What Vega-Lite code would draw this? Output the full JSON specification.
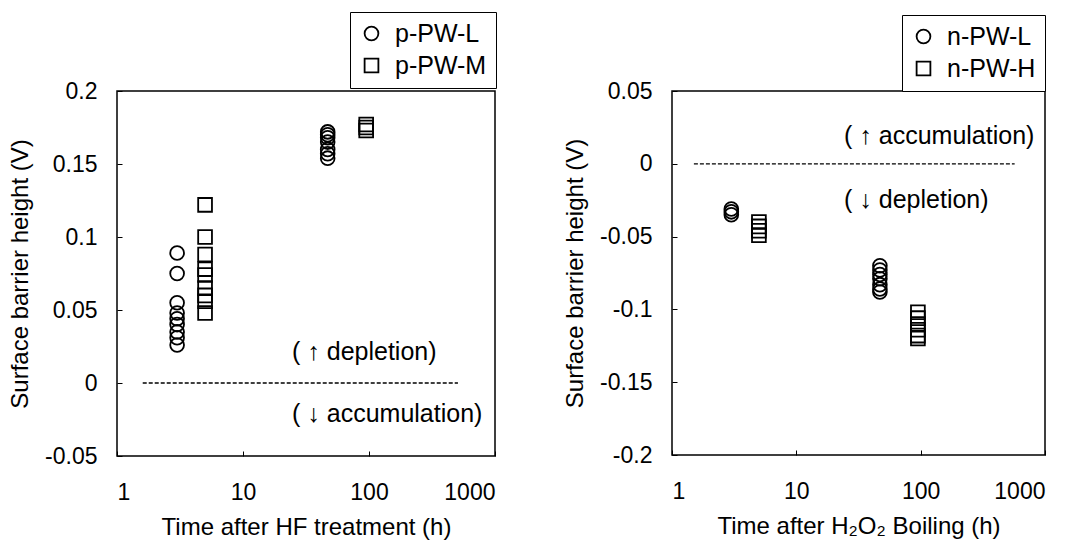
{
  "$schema": "https://vega.github.io/schema/vega-lite/v6.json",
  "background": "white",
  "padding": {"left": 7, "top": 10, "right": 2, "bottom": 2},
  "bounds": "flush",
  "spacing": 177,
  "config": {
    "font": "Liberation Sans",
    "view": {"stroke": "black", "strokeWidth": 1.5},
    "axis": {
      "domain": false, "grid": false, "tickSize": -5, "tickColor": "black", "tickWidth": 1,
      "labelFontSize": 23, "labelColor": "black", "labelFont": "Liberation Sans",
      "titleFontSize": 24, "titleFontWeight": "normal", "titleColor": "black", "titleFont": "Liberation Sans"
    },
    "legend": {
      "orient": "none", "title": null, "strokeColor": "black", "padding": 9, "rowPadding": 6,
      "labelFontSize": 25, "labelColor": "black", "labelFont": "Liberation Sans", "labelOffset": 11,
      "symbolSize": 190, "symbolStrokeWidth": 1.8, "symbolStrokeColor": "black", "fillColor": "white"
    }
  },
  "datasets": {
    "left": [
      {"time": 3, "height": 0.089, "sample": "p-PW-L"},
      {"time": 3, "height": 0.075, "sample": "p-PW-L"},
      {"time": 3, "height": 0.055, "sample": "p-PW-L"},
      {"time": 3, "height": 0.048, "sample": "p-PW-L"},
      {"time": 3, "height": 0.044, "sample": "p-PW-L"},
      {"time": 3, "height": 0.040, "sample": "p-PW-L"},
      {"time": 3, "height": 0.035, "sample": "p-PW-L"},
      {"time": 3, "height": 0.031, "sample": "p-PW-L"},
      {"time": 3, "height": 0.026, "sample": "p-PW-L"},
      {"time": 5, "height": 0.122, "sample": "p-PW-M"},
      {"time": 5, "height": 0.100, "sample": "p-PW-M"},
      {"time": 5, "height": 0.088, "sample": "p-PW-M"},
      {"time": 5, "height": 0.078, "sample": "p-PW-M"},
      {"time": 5, "height": 0.074, "sample": "p-PW-M"},
      {"time": 5, "height": 0.065, "sample": "p-PW-M"},
      {"time": 5, "height": 0.060, "sample": "p-PW-M"},
      {"time": 5, "height": 0.056, "sample": "p-PW-M"},
      {"time": 5, "height": 0.048, "sample": "p-PW-M"},
      {"time": 47, "height": 0.172, "sample": "p-PW-L"},
      {"time": 47, "height": 0.170, "sample": "p-PW-L"},
      {"time": 47, "height": 0.168, "sample": "p-PW-L"},
      {"time": 47, "height": 0.165, "sample": "p-PW-L"},
      {"time": 47, "height": 0.160, "sample": "p-PW-L"},
      {"time": 47, "height": 0.157, "sample": "p-PW-L"},
      {"time": 47, "height": 0.154, "sample": "p-PW-L"},
      {"time": 95, "height": 0.177, "sample": "p-PW-M"},
      {"time": 95, "height": 0.175, "sample": "p-PW-M"},
      {"time": 95, "height": 0.173, "sample": "p-PW-M"}
    ],
    "right": [
      {"time": 3, "height": -0.031, "sample": "n-PW-L"},
      {"time": 3, "height": -0.033, "sample": "n-PW-L"},
      {"time": 3, "height": -0.035, "sample": "n-PW-L"},
      {"time": 5, "height": -0.040, "sample": "n-PW-H"},
      {"time": 5, "height": -0.043, "sample": "n-PW-H"},
      {"time": 5, "height": -0.046, "sample": "n-PW-H"},
      {"time": 5, "height": -0.049, "sample": "n-PW-H"},
      {"time": 47, "height": -0.070, "sample": "n-PW-L"},
      {"time": 47, "height": -0.073, "sample": "n-PW-L"},
      {"time": 47, "height": -0.076, "sample": "n-PW-L"},
      {"time": 47, "height": -0.079, "sample": "n-PW-L"},
      {"time": 47, "height": -0.083, "sample": "n-PW-L"},
      {"time": 47, "height": -0.086, "sample": "n-PW-L"},
      {"time": 47, "height": -0.088, "sample": "n-PW-L"},
      {"time": 95, "height": -0.102, "sample": "n-PW-H"},
      {"time": 95, "height": -0.106, "sample": "n-PW-H"},
      {"time": 95, "height": -0.110, "sample": "n-PW-H"},
      {"time": 95, "height": -0.114, "sample": "n-PW-H"},
      {"time": 95, "height": -0.118, "sample": "n-PW-H"},
      {"time": 95, "height": -0.120, "sample": "n-PW-H"}
    ],
    "leftLine": [{"time": 1.6, "time2": 508, "height": 0}],
    "rightLine": [{"time": 1.5, "time2": 570, "height": 0}],
    "leftText": [
      {"time": 24.5, "height": 0.021, "label": "( ↑ depletion)"},
      {"time": 24.5, "height": -0.0215, "label": "( ↓ accumulation)"}
    ],
    "rightText": [
      {"time": 24.2, "height": 0.019, "label": "( ↑ accumulation)"},
      {"time": 24.2, "height": -0.025, "label": "( ↓ depletion)"}
    ]
  },
  "resolve": {"scale": {"x": "independent", "y": "independent", "shape": "independent"}, "legend": {"shape": "independent"}},
  "hconcat": [
    {
      "width": 378,
      "height": 365,
      "layer": [
        {
          "data": {"name": "left"},
          "mark": {"type": "point", "filled": false, "color": "black", "strokeWidth": 1.8, "size": 190, "opacity": 1},
          "encoding": {
            "x": {"field": "time", "type": "quantitative", "scale": {"type": "log", "domain": [1, 1000], "nice": false},
                  "axis": {"values": [1, 10, 100, 1000], "format": "d", "title": "Time after HF treatment (h)", "labelPadding": 30, "titlePadding": 11}},
            "y": {"field": "height", "type": "quantitative", "scale": {"domain": [-0.05, 0.2], "nice": false, "zero": false},
                  "axis": {"values": [-0.05, 0, 0.05, 0.1, 0.15, 0.2], "labelExpr": "'' + datum.value", "title": "Surface barrier height (V)", "labelPadding": 25, "titlePadding": 12}},
            "shape": {"field": "sample", "type": "nominal", "scale": {"domain": ["p-PW-L", "p-PW-M"], "range": ["circle", "square"]},
                      "legend": {"legendX": 233, "legendY": -79, "symbolSize": 190, "labelExpr": "datum.label + '\u00a0\u2009'",
                                 "encode": {"symbols": {"update": {"size": {"value": 190}, "strokeWidth": {"value": 1.8}}}}}}
          }
        },
        {
          "data": {"name": "leftLine"},
          "mark": {"type": "rule", "strokeDash": [4, 2], "color": "black", "strokeWidth": 1.3},
          "encoding": {
            "x": {"field": "time", "type": "quantitative"},
            "x2": {"field": "time2"},
            "y": {"field": "height", "type": "quantitative"}
          }
        },
        {
          "data": {"name": "leftText"},
          "mark": {"type": "text", "align": "left", "baseline": "middle", "fontSize": 25, "font": "Liberation Sans", "color": "black"},
          "encoding": {
            "x": {"field": "time", "type": "quantitative"},
            "y": {"field": "height", "type": "quantitative"},
            "text": {"field": "label"}
          }
        }
      ]
    },
    {
      "width": 373,
      "height": 364,
      "layer": [
        {
          "data": {"name": "right"},
          "mark": {"type": "point", "filled": false, "color": "black", "strokeWidth": 1.8, "size": 190, "opacity": 1},
          "encoding": {
            "x": {"field": "time", "type": "quantitative", "scale": {"type": "log", "domain": [1, 1000], "nice": false},
                  "axis": {"values": [1, 10, 100, 1000], "format": "d", "title": "Time after H₂O₂ Boiling (h)", "labelPadding": 30, "titlePadding": 11}},
            "y": {"field": "height", "type": "quantitative", "scale": {"domain": [-0.2, 0.05], "nice": false, "zero": false},
                  "axis": {"values": [-0.2, -0.15, -0.1, -0.05, 0, 0.05], "labelExpr": "'' + datum.value", "title": "Surface barrier height (V)", "labelPadding": 25, "titlePadding": 12}},
            "shape": {"field": "sample", "type": "nominal", "scale": {"domain": ["n-PW-L", "n-PW-H"], "range": ["circle", "square"]},
                      "legend": {"legendX": 230, "legendY": -76, "symbolSize": 190, "labelExpr": "datum.label + '\u00a0\u2009'",
                                 "encode": {"symbols": {"update": {"size": {"value": 190}, "strokeWidth": {"value": 1.8}}}}}}
          }
        },
        {
          "data": {"name": "rightLine"},
          "mark": {"type": "rule", "strokeDash": [4, 2], "color": "black", "strokeWidth": 1.3},
          "encoding": {
            "x": {"field": "time", "type": "quantitative"},
            "x2": {"field": "time2"},
            "y": {"field": "height", "type": "quantitative"}
          }
        },
        {
          "data": {"name": "rightText"},
          "mark": {"type": "text", "align": "left", "baseline": "middle", "fontSize": 25, "font": "Liberation Sans", "color": "black"},
          "encoding": {
            "x": {"field": "time", "type": "quantitative"},
            "y": {"field": "height", "type": "quantitative"},
            "text": {"field": "label"}
          }
        }
      ]
    }
  ]
}
